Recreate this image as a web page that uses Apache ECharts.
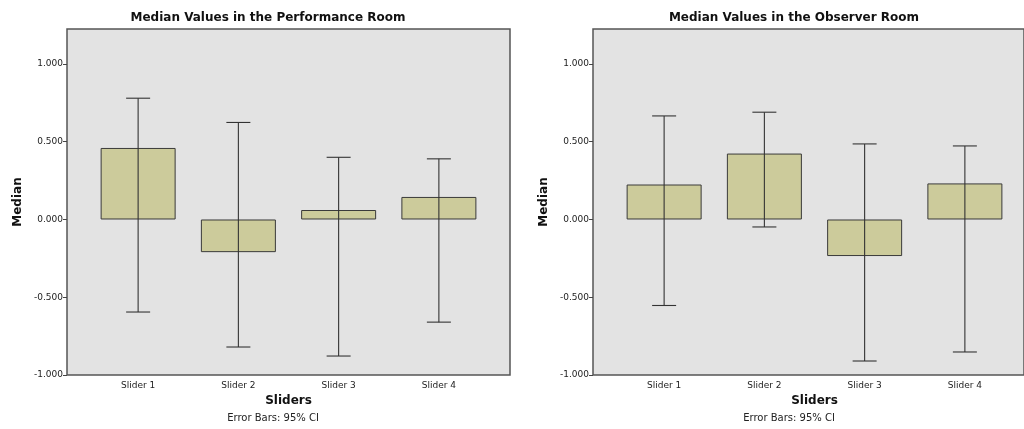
<!DOCTYPE html>
<html><head><meta charset="utf-8">
<script src="https://cdn.jsdelivr.net/npm/echarts@6/dist/echarts.min.js"></script>
<style>html,body{margin:0;padding:0;background:#fff}#c{width:1024px;height:429px}</style>
</head><body><div id="c"></div>
<script>
const categories = ['Slider 1','Slider 2','Slider 3','Slider 4'];
const perfMedian = [0.46, -0.21, 0.061, 0.145];
const perfLow    = [-0.595, -0.82, -0.878, -0.66];
const perfHigh   = [0.78, 0.624, 0.40, 0.39];
const obsMedian  = [0.225, 0.424, -0.235, 0.232];
const obsLow     = [-0.553, -0.048, -0.91, -0.852];
const obsHigh    = [0.666, 0.69, 0.486, 0.473];
const yTicks = [-1, -0.5, 0, 0.5, 1];
const titles = ['Median Values in the Performance Room','Median Values in the Observer Room'];

const FONT = 'DejaVu Sans';
const chart = echarts.init(document.getElementById('c'));

function errSeries(idx, low, high){
  return {
    type:'custom', xAxisIndex:idx, yAxisIndex:idx, z:5,
    data: categories.map((c,i)=>[i, low[i], high[i]]),
    renderItem:(params, api)=>{
      const lo = api.coord([api.value(0), api.value(1)]);
      const hi = api.coord([api.value(0), api.value(2)]);
      const hw = 12;
      const st = {stroke:'#333', lineWidth:1.1};
      return {type:'group', children:[
        {type:'line', shape:{x1:hi[0],y1:hi[1],x2:lo[0],y2:lo[1]}, style:st},
        {type:'line', shape:{x1:hi[0]-hw,y1:hi[1],x2:hi[0]+hw,y2:hi[1]}, style:st},
        {type:'line', shape:{x1:lo[0]-hw,y1:lo[1],x2:lo[0]+hw,y2:lo[1]}, style:st}
      ]};
    }
  };
}
function xAx(idx){
  return {type:'category', gridIndex:idx, data:categories, boundaryGap:true,
    axisLine:{show:false}, axisTick:{alignWithLabel:true, length:4, lineStyle:{color:'#444'}},
    axisLabel:{fontSize:9, color:'#222', fontFamily:FONT, margin:6},
    name:'Sliders', nameLocation:'middle', nameGap:19,
    nameTextStyle:{fontSize:12, fontWeight:'bold', color:'#111', fontFamily:FONT}};
}
function yAx(idx){
  return {type:'value', gridIndex:idx, min:-1, max:1.225, interval:0.5, offset:21,
    splitLine:{show:false}, axisLine:{show:false},
    axisTick:{show:true, length:4, lineStyle:{color:'#444'}},
    axisLabel:{fontSize:9, color:'#222', fontFamily:FONT, margin:4,
      showMaxLabel:false,
      formatter:v=> yTicks.some(t=>Math.abs(t-v)<1e-9) ? v.toFixed(3) : ''},
    name:'Median', nameLocation:'middle', nameGap:43, nameRotate:90,
    nameTextStyle:{fontSize:12, fontWeight:'bold', color:'#111', fontFamily:FONT}};
}
function frameAx(type, idx){
  return {type:type, gridIndex:idx, show:false, min:0, max:1};
}
function barSeries(idx, vals){
  return {type:'bar', xAxisIndex:idx, yAxisIndex:idx, data:vals, barWidth:75,
    itemStyle:{color:'#cccb9b', borderColor:'#3a3a3a', borderWidth:1}};
}
chart.setOption({
  animation:false,
  title:[
    {text:titles[0], left:263, top:7, textAlign:'center',
     textStyle:{fontSize:12, fontWeight:'bold', color:'#111', fontFamily:FONT}},
    {text:titles[1], left:789, top:7, textAlign:'center',
     textStyle:{fontSize:12, fontWeight:'bold', color:'#111', fontFamily:FONT}},
    {text:'Error Bars: 95% CI', left:268, top:408, textAlign:'center',
     textStyle:{fontSize:10, fontWeight:'normal', color:'#222', fontFamily:FONT}},
    {text:'Error Bars: 95% CI', left:784, top:408, textAlign:'center',
     textStyle:{fontSize:10, fontWeight:'normal', color:'#222', fontFamily:FONT}}
  ],
  grid:[
    {left:88, top:29, width:401, height:346},
    {left:614, top:29, width:401, height:346},
    {left:67, top:29, width:443, height:346, show:true, backgroundColor:'#e3e3e3', borderColor:'#555', borderWidth:1.5, z:0},
    {left:593, top:29, width:443, height:346, show:true, backgroundColor:'#e3e3e3', borderColor:'#555', borderWidth:1.5, z:0}
  ],
  xAxis:[xAx(0), xAx(1), frameAx('value',2), frameAx('value',3)],
  yAxis:[yAx(0), yAx(1), frameAx('value',2), frameAx('value',3)],
  series:[barSeries(0, perfMedian), barSeries(1, obsMedian), errSeries(0, perfLow, perfHigh), errSeries(1, obsLow, obsHigh)]
});
</script></body></html>
